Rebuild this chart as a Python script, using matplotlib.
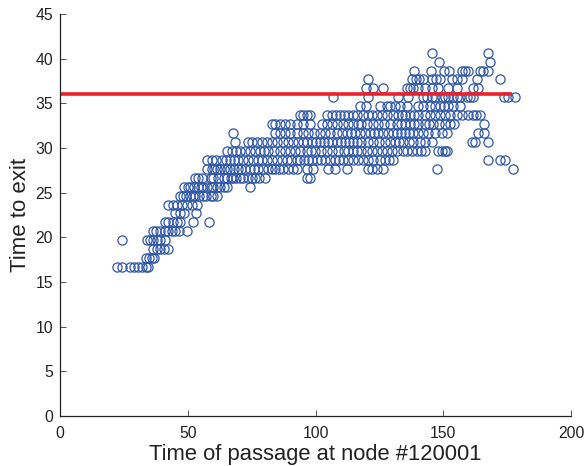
import matplotlib
matplotlib.use("Agg")
import matplotlib.pyplot as plt

plt.rcParams['font.family'] = ['Liberation Sans', 'DejaVu Sans']

# x values (time of passage) for each discrete "time to exit" level
row_16_67 = [22.4, 24.4, 27.4, 29, 30.4, 32.2, 33.7, 34.6]
row_17_67 = [33.7, 35, 35.9, 36.9]
row_18_67 = [36.5, 37.8, 39.1, 40.7, 42.4]
row_19_67 = [24.4, 34.2, 35.2, 36.5, 37.8, 39.1, 41]
row_20_67 = [36.3, 37.6, 39.1, 41.1, 42.4, 43.7, 45, 46.7, 49.6]
row_21_67 = [41.1, 42.4, 44.4, 45.7, 47, 52.2, 58.4]
row_22_67 = [45, 47, 48.5, 53.2]
row_23_67 = [42.4, 44.4, 45.7, 47.6, 49.6, 51.5, 53.5]
row_24_67 = [47, 48, 49.5, 51, 52, 53, 54.5, 56, 57, 59, 60, 61.5]
row_25_67 = [48.5, 50, 51, 52.5, 54, 55, 56, 57.4, 59, 60, 61.3, 62.5, 64, 65.2, 74.4]
row_26_67 = [53, 54, 55.5, 59, 60, 62, 64, 65.5, 66.8, 67.9, 69, 70.5, 71.8, 73.5, 75, 76.3, 78, 80.2, 96.6, 97.9]
row_27_67 = [57.4, 59.4, 60.4, 61.3, 62.6, 64, 65.2, 66.5, 68.2, 69.8, 71, 72.4, 74.4, 75.8, 77.6, 79.5, 81.6,
             83, 84.2, 85.6, 87.4, 89.4, 91, 92.6, 96.6, 99.2, 105, 107.7, 112.2, 120.7, 122, 123.9, 126.5, 147.4, 177.2]
row_28_67 = [57.4, 59.4, 61.2, 63.3, 65, 66.5, 68, 69.8, 71.8, 73.5, 75.5, 77.6, 79, 80.9, 82.8, 84.8, 86.7, 88.7,
             90.6, 92.6, 94, 95.5, 97.2, 98.8, 100.5, 102, 103.7, 105.6, 107.7, 109.2, 110.9, 112.9, 114.8, 116.8,
             118.7, 120.6, 122.6, 125.2, 127.2, 128.8, 130.5, 167.6, 172.2, 174.2]
row_29_67 = [65.2, 67.2, 69, 70.6, 72.4, 74.4, 76.4, 78.3, 80, 81.6, 83.8, 86.1, 88, 90, 92, 94, 96.6, 98.2, 99.8,
             102, 104.4, 106.6, 109, 111, 112.9, 114.5, 116.1, 118, 120, 122, 124, 125.9, 127.8, 130, 132,
             134.4, 135.7, 137.6, 139.6, 141.2, 142.8, 148, 149.4, 150.7, 151.6]
row_30_67 = [68.5, 73.7, 75, 77, 79, 81, 82.9, 85, 87.4, 89.4, 91.3, 93.3, 95.3, 96.6, 98.5, 100.2, 101.8, 103.4, 105,
             106.6, 108.3, 110, 111.6, 113.2, 114.8, 116.4, 118, 120.7, 122.6, 125, 127.2, 129.2, 131.1, 132.8,
             134.4, 136.4, 138.3, 140.9, 143, 145.5, 161.1, 162.4, 167.6]
row_31_67 = [67.9, 84.2, 86, 88.1, 90, 92.6, 95.3, 97.2, 99.5, 101.8, 103.8, 105.7, 108.3, 110.2, 112.2, 113.8, 115.5,
             117.4, 119.4, 121.3, 123, 124.6, 126.6, 128.5, 130.2, 131.8, 133.4, 135, 136.6, 138.3, 140.2, 142.2,
             144.2, 146.8, 149.4, 151.3, 163.7, 166]
row_32_67 = [82.9, 84.2, 86.1, 88.1, 90, 92.6, 95.3, 97.9, 102.4, 104.4, 106.4, 108.3, 110.6, 112.9, 114.8, 116.8,
             118, 120, 122.6, 124.6, 126.8, 129.1, 131.8, 133.4, 135, 137, 138.6, 140.2, 142.8, 144.4, 146.1, 148.4,
             150.7, 152.6, 154.4, 166]
row_33_67 = [94, 95.3, 96.6, 97.9, 104.4, 106.3, 108, 109.6, 111.2, 112.9, 114.5, 116.1, 118.7, 120.7, 122.3, 123.9,
             125.9, 127.8, 130.5, 132.4, 134, 135, 137, 138.6, 140.2, 142.8, 144.8, 146.6, 148.7, 150.7, 152.8,
             155.2, 157.5, 159.8, 161.5, 163, 164.4]
row_34_67 = [117.4, 119.7, 125.2, 127.8, 129.1, 131.1, 133, 135.7, 140.2, 142.2, 144.8, 146.8, 148.7,
             150.3, 152, 154, 156.5]
row_35_67 = [106.7, 120.7, 132.4, 136.3, 142.2, 143.5, 145.5, 146.8, 149.4, 150.8, 152, 154, 155.3, 156.5, 159.2,
             160.4, 161.8, 173.8, 175.5, 178]
row_36_67 = [119.7, 122.6, 126.5, 135.7, 137, 138.3, 140.2, 142.8, 145.5, 148, 152, 155.2, 161.8, 163.7]
row_37_67 = [120.7, 137.6, 139.4, 140.6, 142.2, 145.5, 147.2, 148.7, 153.3, 155.2, 157.2, 163.3, 172.2]
row_38_67 = [138.7, 145.2, 150.3, 152.4, 157.2, 158.5, 159.8, 164.4, 165.7, 167.6]
row_39_67 = [148.5, 168.4]
row_40_67 = [145.5, 167.5]

rows = [
    (16.67, row_16_67), (17.67, row_17_67), (18.67, row_18_67), (19.67, row_19_67),
    (20.67, row_20_67), (21.67, row_21_67), (22.67, row_22_67), (23.67, row_23_67),
    (24.67, row_24_67), (25.67, row_25_67), (26.67, row_26_67), (27.67, row_27_67),
    (28.67, row_28_67), (29.67, row_29_67), (30.67, row_30_67), (31.67, row_31_67),
    (32.67, row_32_67), (33.67, row_33_67), (34.67, row_34_67), (35.67, row_35_67),
    (36.67, row_36_67), (37.67, row_37_67), (38.67, row_38_67), (39.67, row_39_67),
    (40.67, row_40_67),
]
x_values = [x for _, xs in rows for x in xs]
y_values = [y for y, xs in rows for _ in xs]

threshold_x = [0, 177]
threshold_y = [36, 36]

x_ticks = [0, 50, 100, 150, 200]
y_ticks = [0, 5, 10, 15, 20, 25, 30, 35, 40, 45]

fig = plt.figure(figsize=(5.84, 4.66), dpi=100)
ax = fig.add_axes([60 / 584, 1 - 416 / 466, (571 - 60) / 584, (416 - 14) / 466])
ax.plot(x_values, y_values, linestyle='none', marker='o', markersize=6.6,
        markerfacecolor='none', markeredgecolor='#2f57a8', markeredgewidth=0.9)
ax.plot(threshold_x, threshold_y, color='#ee2029', linewidth=2.6, solid_capstyle='butt')

ax.set_xlim(0, 200)
ax.set_ylim(0, 45)
ax.set_xticks(x_ticks)
ax.set_yticks(y_ticks)
ax.spines['top'].set_visible(False)
ax.spines['right'].set_visible(False)
for side in ('left', 'bottom'):
    ax.spines[side].set_color('#222222')
    ax.spines[side].set_linewidth(0.9)
ax.tick_params(direction='in', length=4, width=0.7, color='#555555',
               labelsize=11.3, labelcolor='#222222')
ax.tick_params(axis='x', pad=7)
ax.tick_params(axis='y', pad=5)
ax.set_xlabel('Time of passage at node #120001', fontsize=15.8, color='#222222', labelpad=2.5)
ax.set_ylabel('Time to exit', fontsize=16, color='#222222', labelpad=3)

fig.savefig('out.png', dpi=100)
